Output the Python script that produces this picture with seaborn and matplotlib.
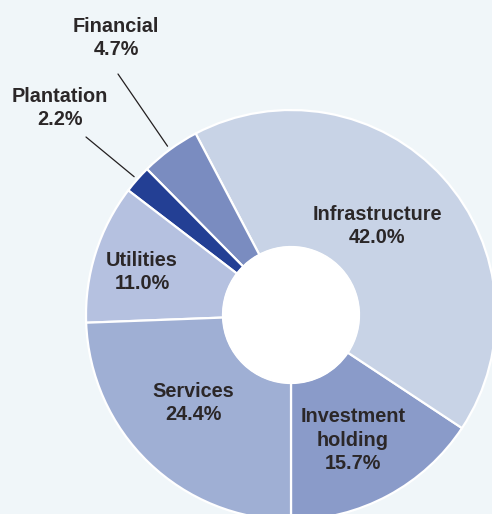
import matplotlib
matplotlib.use("Agg")
import matplotlib.pyplot as plt
import numpy as np
import seaborn as sns

# Portfolio breakdown by sector (%), counter-clockwise from the bottom
sectors = ["Investment\nholding", "Infrastructure", "Financial", "Plantation", "Utilities", "Services"]
shares = [15.7, 42.0, 4.7, 2.2, 11.0, 24.4]
colors = ["#8a9bc9", "#c8d3e6", "#7a8cc0", "#233f94", "#b5c1e0", "#9fafd4"]

# Label anchor points (pixel coordinates of the figure) and leader-line starts
label_px = [(353, 440), (377, 226), (116, 38), (60, 108), (142, 272), (193, 403)]
leader_start_px = {2: (118, 74), 3: (86, 137)}

sns.set_style("white")
plt.rcParams["font.family"] = ["Liberation Sans", "DejaVu Sans"]

W, H = 492, 514
cx, cy, R = 291, 315, 205
bg = "#f0f6f9"

fig = plt.figure(figsize=(W / 100, H / 100), dpi=100, facecolor=bg)
ax = fig.add_axes([0, 0, 1, 1])
ax.set_facecolor(bg)

start = -90
ax.pie(shares, colors=colors, startangle=start, counterclock=True, radius=1.0,
       wedgeprops=dict(width=1 - 68 / R, edgecolor="white", linewidth=1.6))
ax.add_patch(plt.Circle((0, 0), 68 / R, color="white", zorder=3))


def to_data(px, py):
    return (px - cx) / R, (cy - py) / R


ax.set_xlim(-cx / R, (W - cx) / R)
ax.set_ylim(-(H - cy) / R, cy / R)
ax.set_aspect("equal")
ax.axis("off")

ink = "#231f20"
cum = np.cumsum([0] + shares)
for i, (name, val) in enumerate(zip(sectors, shares)):
    x, y = to_data(*label_px[i])
    ax.text(x, y, f"{name}\n{val:.1f}%", ha="center", va="center", fontsize=14.3,
            fontweight="bold", color="#2b2728", linespacing=1.32, zorder=5)
    if i in leader_start_px:
        mid = np.deg2rad(start + (cum[i] + val / 2) * 3.6)
        ex, ey = 1.02 * np.cos(mid), 1.02 * np.sin(mid)
        sx, sy = to_data(*leader_start_px[i])
        ax.plot([sx, ex], [sy, ey], color=ink, lw=0.9, zorder=5)

fig.savefig("out.png", dpi=100, facecolor=bg)
